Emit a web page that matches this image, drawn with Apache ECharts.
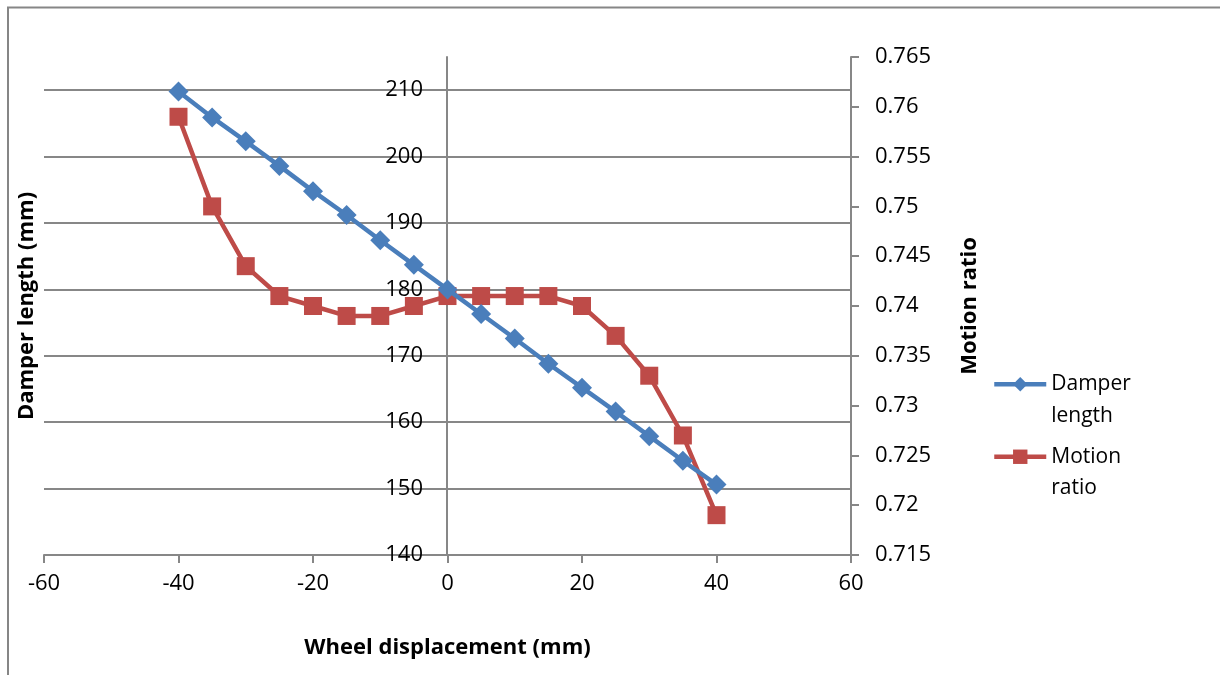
<!DOCTYPE html>
<html>
<head>
<meta charset="utf-8">
<script src="https://cdn.jsdelivr.net/npm/echarts@6/dist/echarts.min.js"></script>
<style>
    html, body { margin: 0; padding: 0; background: #fff; }
    #chart { width: 1220px; height: 675px; }
</style>
</head>
<body>
<div id="chart"></div>
<script>
    // wheel displacement (mm)
    var displacement = [-40, -35, -30, -25, -20, -15, -10, -5, 0, 5, 10, 15, 20, 25, 30, 35, 40];
    var damperLength = [209.8, 205.9, 202.3, 198.6, 194.8, 191.2, 187.4, 183.7, 180.0, 176.3, 172.6, 168.8, 165.2, 161.6, 157.9, 154.2, 150.6];
    var motionRatio = [0.759, 0.750, 0.744, 0.741, 0.740, 0.739, 0.739, 0.740, 0.741, 0.741, 0.741, 0.741, 0.740, 0.737, 0.733, 0.727, 0.719];

    var font = 'Open Sans';
    var gridColor = '#878787';

    function pairs(xs, ys) {
        return xs.map(function (x, i) { return [x, ys[i]]; });
    }

    var myChart = echarts.init(document.getElementById('chart'));
    var options = {
        animation: false,
        textStyle: { fontFamily: font, color: '#000' },
        grid: { left: 44, right: 369, top: 57, bottom: 120, outerBoundsMode: 'none' },
        graphic: [
            {
                type: 'polyline',
                shape: { points: [[8, 675], [8, 7.5], [1220, 7.5]] },
                style: { stroke: '#868686', lineWidth: 2, fill: null }
            }
        ],
        legend: {
            orient: 'vertical',
            left: 992,
            top: 337,
            padding: 0,
            itemWidth: 52,
            itemHeight: 18,
            itemGap: -22,
            lineStyle: { width: 4.5 },
            textStyle: { fontFamily: font, fontSize: 21, lineHeight: 31.5, color: '#000' },
            // blank first line so the icon sits on the first text line
            formatter: function (name) { return ' \n' + name.replace(' ', '\n'); },
            data: ['Damper length', 'Motion ratio']
        },
        xAxis: {
            type: 'value',
            min: -60,
            max: 60,
            interval: 20,
            name: 'Wheel displacement (mm)',
            nameLocation: 'middle',
            nameGap: 82,
            nameTextStyle: { fontFamily: font, fontSize: 22, fontWeight: 'bold', color: '#000' },
            axisLine: { onZero: false, lineStyle: { color: gridColor, width: 2 } },
            axisTick: { show: true, length: 8, lineStyle: { color: gridColor, width: 2 } },
            axisLabel: { fontSize: 22, color: '#000', margin: 18 },
            splitLine: { show: false }
        },
        yAxis: [
            {
                // axis sits at x = 0 (grid left 44 + 403px)
                type: 'value',
                min: 140,
                max: 215,
                interval: 10,
                offset: -403,
                name: 'Damper length (mm)',
                nameLocation: 'middle',
                nameGap: 409,
                nameTextStyle: { fontFamily: font, fontSize: 22, fontWeight: 'bold', color: '#000' },
                axisLine: { show: true, onZero: false, lineStyle: { color: gridColor, width: 2 } },
                axisTick: { show: false },
                axisLabel: { fontSize: 22, color: '#000', margin: 24, showMaxLabel: false },
                splitLine: { show: true, showMaxLine: false, lineStyle: { color: gridColor, width: 2 } }
            },
            {
                type: 'value',
                position: 'right',
                min: 0.715,
                max: 0.765,
                interval: 0.005,
                name: 'Motion ratio',
                nameLocation: 'middle',
                nameGap: 108,
                nameTextStyle: { fontFamily: font, fontSize: 22, fontWeight: 'bold', color: '#000' },
                axisLine: { show: true, onZero: false, lineStyle: { color: gridColor, width: 2 } },
                axisTick: { show: true, length: 8, lineStyle: { color: gridColor, width: 2 } },
                axisLabel: {
                    fontSize: 22, color: '#000', margin: 24,
                    formatter: function (v) { return String(parseFloat(v.toFixed(3))); }
                },
                splitLine: { show: false }
            }
        ],
        series: [
            {
                name: 'Damper length',
                type: 'line',
                yAxisIndex: 0,
                data: pairs(displacement, damperLength),
                symbol: 'diamond',
                symbolSize: 20,
                showAllSymbol: true,
                lineStyle: { color: '#4a7ebb', width: 4.5 },
                itemStyle: { color: '#4a7ebb' },
                z: 3
            },
            {
                name: 'Motion ratio',
                type: 'line',
                yAxisIndex: 1,
                data: pairs(displacement, motionRatio),
                symbol: 'rect',
                symbolSize: 18,
                showAllSymbol: true,
                lineStyle: { color: '#be4b48', width: 4.5 },
                itemStyle: { color: '#be4b48' },
                z: 2
            }
        ]
    };
    myChart.setOption(options);
</script>
</body>
</html>
